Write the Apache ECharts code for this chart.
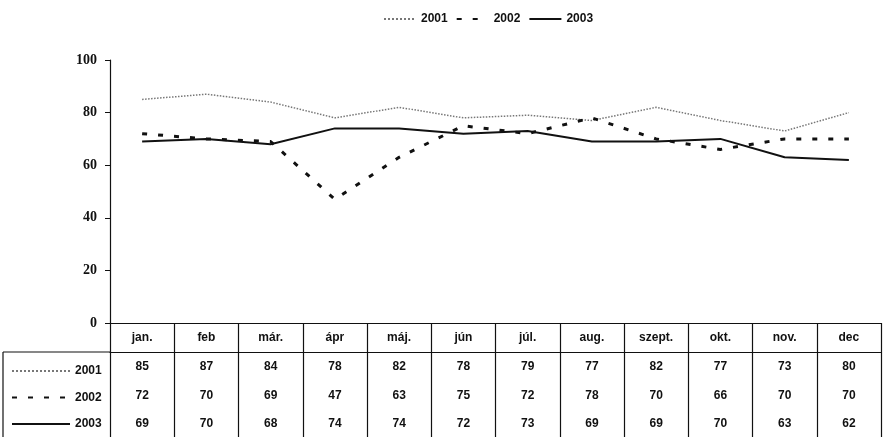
<!DOCTYPE html>
<html>
<head>
<meta charset="utf-8">
<script src="https://cdn.jsdelivr.net/npm/echarts@6/dist/echarts.min.js"></script>
<style>
  html, body { margin: 0; padding: 0; background: #fff; }
  #chart { width: 883px; height: 437px; }
</style>
</head>
<body>
<div id="chart"></div>
<script>
// havi adatok (táblázatból leolvasva)
var months = ['jan.', 'feb', 'már.', 'ápr', 'máj.', 'jún', 'júl.', 'aug.', 'szept.', 'okt.', 'nov.', 'dec'];
var years = ['2001', '2002', '2003'];
var v2001 = [85, 87, 84, 78, 82, 78, 79, 77, 82, 77, 73, 80];
var v2002 = [72, 70, 69, 47, 63, 75, 72, 78, 70, 66, 70, 70];
var v2003 = [69, 70, 68, 74, 74, 72, 73, 69, 69, 70, 63, 62];
var yTicks = [0, 20, 40, 60, 80, 100];

var tableFont = { color: '#111', fontSize: 12, fontWeight: 'bold', fontFamily: 'Liberation Sans' };

// táblázat sorai = extra x tengelyek
function rowAxis(values, margin, withLines) {
  return {
    type: 'category',
    position: 'bottom',
    offset: 29,
    data: values.map(String),
    axisLine: { show: withLines, lineStyle: { color: '#111', width: 1.2 } },
    axisTick: { show: withLines, length: 86, interval: 0, lineStyle: { color: '#111', width: 1.2 } },
    axisLabel: Object.assign({ interval: 0, margin: margin }, tableFont),
    splitLine: { show: false }
  };
}

var chart = echarts.init(document.getElementById('chart'));
var option = {
  animation: false,
  backgroundColor: '#fff',
  grid: { left: 110, right: 2, top: 60, bottom: 114 },
  legend: [
    {
      data: years,
      left: 378,
      top: 8,
      itemWidth: 32,
      itemHeight: 10,
      itemGap: 8,
      itemStyle: { opacity: 0 },
      textStyle: { color: '#111', fontSize: 12, fontWeight: 'bold', fontFamily: 'Liberation Sans' }
    },
    {
      data: years,
      orient: 'vertical',
      left: 6,
      top: 360,
      itemWidth: 58,
      itemHeight: 14,
      itemGap: 14.5,
      itemStyle: { opacity: 0 },
      textStyle: { color: '#111', fontSize: 12, fontWeight: 'bold', fontFamily: 'Liberation Sans' }
    }
  ],
  xAxis: [
    {
      type: 'category',
      position: 'bottom',
      data: months,
      axisLine: { show: true, lineStyle: { color: '#111', width: 1.2 } },
      axisTick: { show: true, length: 29, interval: 0, lineStyle: { color: '#111', width: 1.2 } },
      axisLabel: Object.assign({ interval: 0, margin: 9 }, tableFont),
      splitLine: { show: false }
    },
    rowAxis(v2001, 9, true),
    rowAxis(v2002, 38, false),
    rowAxis(v2003, 66, false)
  ],
  yAxis: {
    type: 'value',
    min: 0,
    max: 100,
    interval: 20,
    axisLine: { show: true, lineStyle: { color: '#111', width: 1.2 } },
    axisTick: { show: true, length: 5, lineStyle: { color: '#111' } },
    axisLabel: {
      color: '#111', fontSize: 14, fontWeight: 'bold', fontFamily: 'Liberation Serif', margin: 13,
      formatter: function (v) { return yTicks.indexOf(v) >= 0 ? String(v) : ''; }
    },
    splitLine: { show: false }
  },
  series: [
    {
      name: '2001', type: 'line', data: v2001, symbol: 'none',
      itemStyle: { color: '#777' },
      lineStyle: { color: '#777', width: 1.5, type: 'dotted' }
    },
    {
      name: '2002', type: 'line', data: v2002, symbol: 'none',
      itemStyle: { color: '#111' },
      lineStyle: { color: '#111', width: 3, type: [5, 11] }
    },
    {
      name: '2003', type: 'line', data: v2003, symbol: 'none',
      itemStyle: { color: '#111' },
      lineStyle: { color: '#111', width: 2 }
    }
  ],
  graphic: [
    // a bal oldali fejléc oszlop keretei
    { type: 'line', shape: { x1: 3, y1: 352, x2: 110, y2: 352 }, style: { stroke: '#111', lineWidth: 1.2 } },
    { type: 'line', shape: { x1: 3, y1: 352, x2: 3, y2: 437 }, style: { stroke: '#111', lineWidth: 1.2 } }
  ]
};
chart.setOption(option);
</script>
</body>
</html>
